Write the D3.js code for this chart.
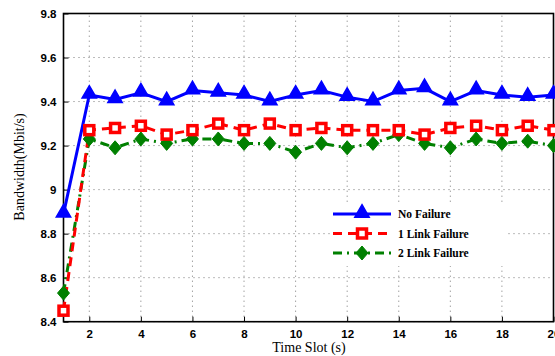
<!DOCTYPE html>
<html>
<head>
<meta charset="utf-8">
<script src="https://cdn.jsdelivr.net/npm/d3@7"></script>
<style>
  body { margin: 0; background: #fff; }
  svg { display: block; }
</style>
</head>
<body>
<div id="chart"></div>
<script>
// time slots and the three measured series
var slots = d3.range(1, 21);
var noFailure = [8.89, 9.43, 9.41, 9.44, 9.40, 9.45, 9.44, 9.43, 9.40, 9.43,
                 9.45, 9.42, 9.40, 9.45, 9.46, 9.40, 9.45, 9.43, 9.42, 9.43];
var oneLink   = [8.45, 9.27, 9.28, 9.29, 9.25, 9.27, 9.30, 9.27, 9.30, 9.27,
                 9.28, 9.27, 9.27, 9.27, 9.25, 9.28, 9.29, 9.27, 9.29, 9.27];
var twoLink   = [8.53, 9.23, 9.19, 9.23, 9.21, 9.23, 9.23, 9.21, 9.21, 9.17,
                 9.21, 9.19, 9.21, 9.25, 9.21, 9.19, 9.23, 9.21, 9.22, 9.20];
var xTicks = [2, 4, 6, 8, 10, 12, 14, 16, 18, 20];
var yTicks = [8.4, 8.6, 8.8, 9, 9.2, 9.4, 9.6, 9.8];
var seriesNames = ["No Failure", "1 Link Failure", "2 Link Failure"];

var W = 555, H = 356;
var x = d3.scaleLinear().domain([1, 20]).range([63.5, 553.5]);
var y = d3.scaleLinear().domain([8.4, 9.8]).range([321.7, 13.5]);

var svg = d3.select("#chart").append("svg")
  .attr("width", W).attr("height", H);

// dotted grid
svg.append("g").selectAll("line").data(xTicks).enter().append("line")
  .attr("x1", d => x(d)).attr("x2", d => x(d))
  .attr("y1", y(8.4)).attr("y2", y(9.8))
  .attr("stroke", "#777").attr("stroke-width", 1)
  .attr("stroke-dasharray", "1,4");
svg.append("g").selectAll("line").data(yTicks).enter().append("line")
  .attr("x1", x(1)).attr("x2", x(20))
  .attr("y1", d => y(d)).attr("y2", d => y(d))
  .attr("stroke", "#777").attr("stroke-width", 1)
  .attr("stroke-dasharray", "1,4");

// axes (ticks inward)
var xAxis = d3.axisBottom(x).tickValues(xTicks).tickSize(-5).tickPadding(8)
  .tickFormat(d3.format("d"));
var yAxis = d3.axisLeft(y).tickValues(yTicks).tickSize(-5).tickPadding(7)
  .tickFormat(d => d === 9 ? "9" : d3.format(".1f")(d));

var gx = svg.append("g").attr("transform", "translate(0," + y(8.4) + ")").call(xAxis);
var gy = svg.append("g").attr("transform", "translate(" + x(1) + ",0)").call(yAxis);
[gx, gy].forEach(g => {
  g.select(".domain").remove();
  g.selectAll("line").attr("stroke", "#000").attr("stroke-width", 1);
  g.selectAll("text")
    .attr("font-family", "Liberation Sans, Arial, sans-serif")
    .attr("font-weight", "bold").attr("font-size", 11.5).attr("fill", "#000");
});

// box
svg.append("rect")
  .attr("x", x(1)).attr("y", y(9.8))
  .attr("width", x(20) - x(1)).attr("height", y(8.4) - y(9.8))
  .attr("fill", "none").attr("stroke", "#000").attr("stroke-width", 1.6);

// series
var series = [
  { name: seriesNames[0], values: noFailure, color: "#0000ff", dash: null, marker: "tri" },
  { name: seriesNames[1], values: oneLink, color: "#ff0000", dash: "9,6", marker: "sq" },
  { name: seriesNames[2], values: twoLink, color: "#008000", dash: "9,5,2,5", marker: "dia" }
];

var line = d3.line().x((d, i) => x(slots[i])).y(d => y(d));

function drawMarker(g, kind, color, cx, cy) {
  if (kind === "tri") {
    g.append("path")
      .attr("d", d3.symbol().type(d3.symbolTriangle).size(90)())
      .attr("transform", "translate(" + cx + "," + (cy - 1) + ")")
      .attr("fill", color).attr("stroke", color).attr("stroke-width", 1.5);
  } else if (kind === "sq") {
    g.append("rect")
      .attr("x", cx - 4.5).attr("y", cy - 4.5).attr("width", 9).attr("height", 9)
      .attr("fill", "#fff").attr("stroke", color).attr("stroke-width", 3.5);
  } else {
    g.append("path")
      .attr("d", "M0,-7L6,0L0,7L-6,0Z")
      .attr("transform", "translate(" + cx + "," + cy + ")")
      .attr("fill", color).attr("stroke", color).attr("stroke-width", 1);
  }
}

var plot = svg.append("g");
series.slice().reverse().forEach(s => {
  plot.append("path").datum(s.values)
    .attr("d", line).attr("fill", "none")
    .attr("stroke", s.color).attr("stroke-width", 3)
    .attr("stroke-dasharray", s.dash);
});
series.slice().reverse().forEach(s => {
  var g = plot.append("g");
  s.values.forEach((v, i) => drawMarker(g, s.marker, s.color, x(slots[i]), y(v)));
});

// legend
var leg = svg.append("g");
leg.append("rect").attr("x", 330).attr("y", 202).attr("width", 178).attr("height", 64)
  .attr("fill", "#fff");
series.forEach((s, i) => {
  var ly = 214 + i * 19.5;
  leg.append("line").attr("x1", 333).attr("x2", 391).attr("y1", ly).attr("y2", ly)
    .attr("stroke", s.color).attr("stroke-width", 3)
    .attr("stroke-dasharray", s.dash);
  drawMarker(leg, s.marker, s.color, 362, ly);
  leg.append("text").attr("x", 398).attr("y", ly + 4)
    .attr("font-family", "Liberation Serif, Times New Roman, serif")
    .attr("font-weight", "bold").attr("font-size", 11.5)
    .text(s.name);
});

// axis titles
svg.append("text").attr("x", 309).attr("y", 352)
  .attr("text-anchor", "middle")
  .attr("font-family", "Liberation Serif, Times New Roman, serif")
  .attr("font-size", 14).text("Time Slot (s)");
svg.append("text")
  .attr("transform", "translate(24,167) rotate(-90)")
  .attr("text-anchor", "middle")
  .attr("font-family", "Liberation Serif, Times New Roman, serif")
  .attr("font-size", 14).text("Bandwidth(Mbit/s)");
</script>
</body>
</html>
